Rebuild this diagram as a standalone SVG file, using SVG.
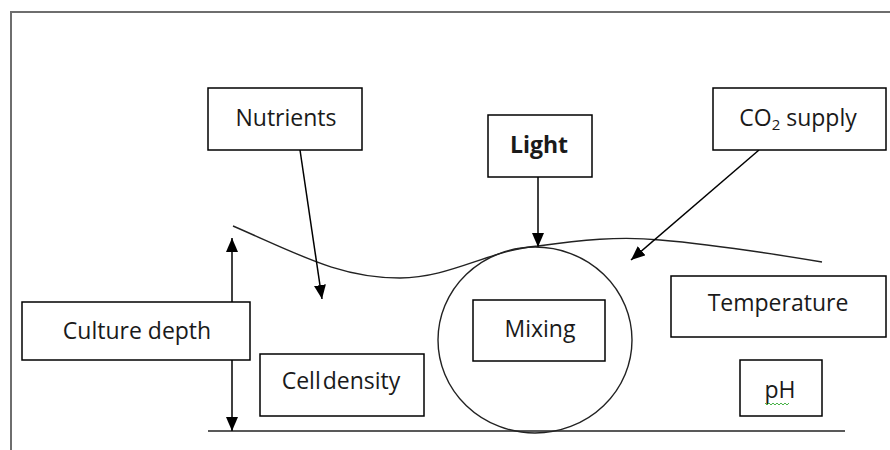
<svg xmlns="http://www.w3.org/2000/svg" width="890" height="450" viewBox="0 0 890 450">
<defs>
<marker id="ah" viewBox="0 0 14 12" refX="14" refY="6" markerWidth="14" markerHeight="12" markerUnits="userSpaceOnUse" orient="auto-start-reverse">
<path d="M0,0 L14,6 L0,12 Z" fill="#000"/>
</marker>
</defs>
<style>
.box{fill:#fff;stroke:#000;stroke-width:1.5}
.t{font-family:"Open Sans","Liberation Sans",sans-serif;font-size:23px;fill:#1a1a1a;text-anchor:middle}
.c{fill:none;stroke:#000;stroke-width:1.5}
</style>
<rect width="890" height="450" fill="#fff"/>
<g id="frame">
<path d="M11,450 V12 H890" fill="none" stroke="#6e6e6e" stroke-width="2"/>
</g>
<g id="surface">
<path d="M233,226 C300,255 340,278 400,278 C450,278 490,250 538,246 C580,240 620,236 660,240 C720,245 780,255 822,262" fill="none" stroke="#222" stroke-width="1.4"/>
<line x1="208" y1="431" x2="845" y2="431" stroke="#222" stroke-width="1.6"/>
</g>
<g id="connectors">
<line class="c" x1="300" y1="150" x2="322" y2="299" marker-end="url(#ah)"/>
<line class="c" x1="538" y1="177" x2="538" y2="247" marker-end="url(#ah)"/>
<line class="c" x1="759" y1="150" x2="631" y2="260" marker-end="url(#ah)"/>
<line class="c" x1="232" y1="238" x2="232" y2="431" marker-start="url(#ah)" marker-end="url(#ah)"/>
</g>
<g id="mixing-zone">
<ellipse cx="535" cy="340" rx="97" ry="93" fill="none" stroke="#222" stroke-width="1.4"/>
</g>
<g id="nutrients"><rect class="box" x="208" y="88" width="154" height="62"/><text class="t" x="286" y="126">Nutrients</text></g>
<g id="light"><rect class="box" x="488" y="115" width="104" height="62"/><text class="t" x="539" y="153" font-weight="bold">Light</text></g>
<g id="co2"><rect class="box" x="713" y="88" width="173" height="62"/><text class="t" x="798" y="126">CO<tspan font-size="15" dy="4">2</tspan><tspan dy="-4"> supply</tspan></text></g>
<g id="culture-depth"><rect class="box" x="22" y="302" width="228" height="58"/><text class="t" x="137" y="339">Culture depth</text></g>
<g id="cell-density"><rect class="box" x="260" y="354" width="164" height="62"/><text class="t" x="341" y="389" word-spacing="-4">Cell density</text></g>
<g id="mixing"><rect class="box" x="473" y="300" width="132" height="61"/><text class="t" x="540" y="337">Mixing</text></g>
<g id="temperature"><rect class="box" x="671" y="276" width="215" height="61"/><text class="t" x="778" y="311">Temperature</text></g>
<g id="ph"><rect class="box" x="740" y="360" width="82" height="56"/><text class="t" x="780" y="398">pH</text>
<path d="M765,403 l2,2 l2,-2 l2,2 l2,-2 l2,2 l2,-2 l2,2 l2,-2 l2,2 l2,-2 l2,2 l2,-2" fill="none" stroke="#3a3" stroke-width="0.9"/></g>
</svg>
